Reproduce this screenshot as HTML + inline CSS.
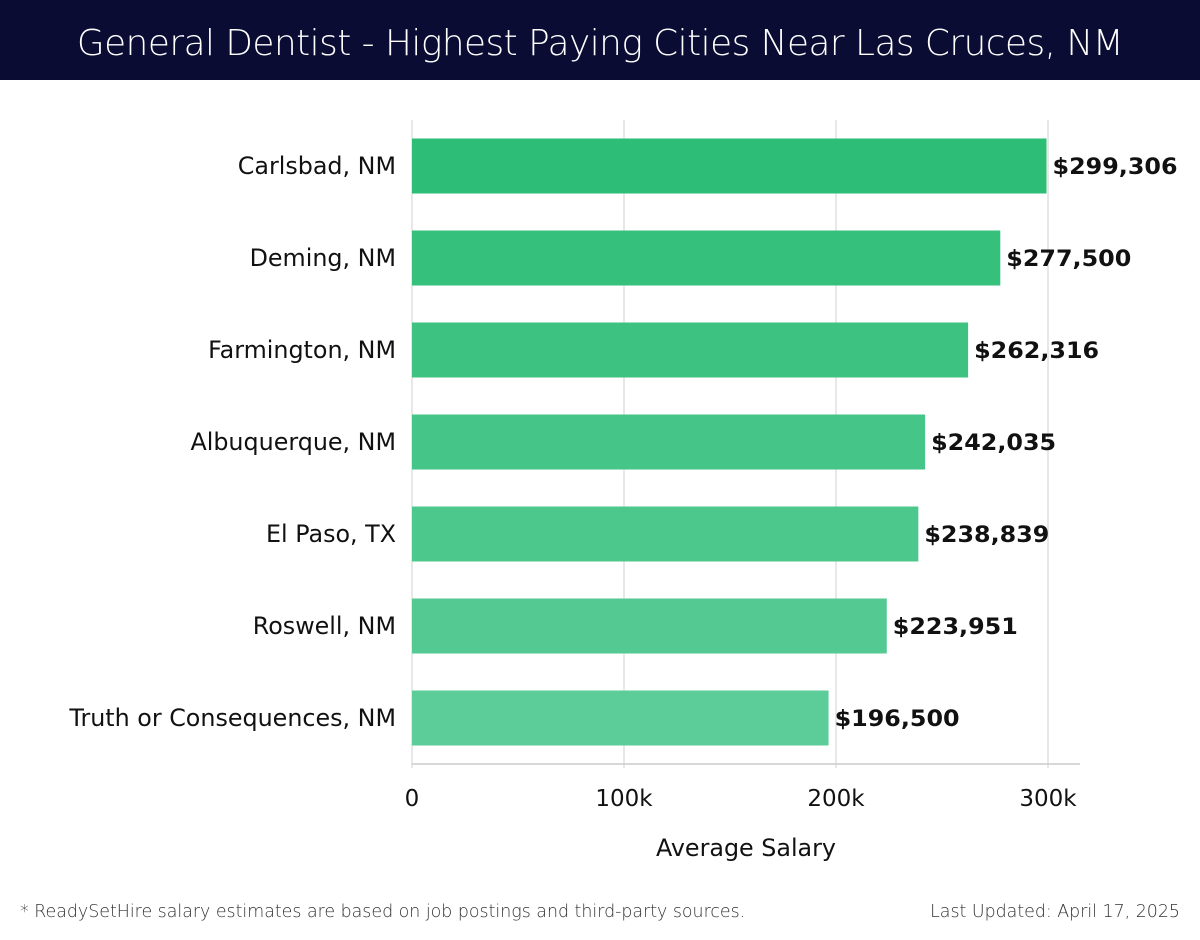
<!DOCTYPE html>
<html><head><meta charset="utf-8"><style>
body{margin:0;width:1200px;height:940px;background:#fff;font-family:"DejaVu Sans","Liberation Sans",sans-serif;overflow:hidden}
#hdr{position:absolute;left:0;top:0;width:1200px;height:80px;background:#0b0c33;color:#fff;font-size:35.8px;text-align:center;line-height:88px;font-family:"DejaVu Sans","Liberation Sans",sans-serif;font-weight:200;letter-spacing:-0.5px}
.foot{position:absolute;top:902px;font-size:17.4px;color:#333;font-family:"DejaVu Sans","Liberation Sans",sans-serif;font-weight:200}
</style></head><body>
<div id="hdr">General Dentist - Highest Paying Cities Near Las Cruces, NM</div>
<svg id="chart" width="1200" height="940" style="position:absolute;left:0;top:0;font-family:'DejaVu Sans','Liberation Sans',sans-serif"></svg>
<div class="foot" style="left:20px">* ReadySetHire salary estimates are based on job postings and third-party sources.</div>
<div class="foot" style="right:20px">Last Updated: April 17, 2025</div>
<script>
const categories=["Carlsbad, NM","Deming, NM","Farmington, NM","Albuquerque, NM","El Paso, TX","Roswell, NM","Truth or Consequences, NM"];
const values=[299306,277500,262316,242035,238839,223951,196500];
const valueLabels=["$299,306","$277,500","$262,316","$242,035","$238,839","$223,951","$196,500"];
const ticks=[0,100000,200000,300000];
const tickLabels=["0","100k","200k","300k"];
const NS="http://www.w3.org/2000/svg";
const svg=document.getElementById('chart');
const x0=412,pxPer=212/100000,top0=120,step=92,barH=55,axisY=764;
const xs=v=>x0+v*pxPer;
const yc=i=>top0+46+i*step;
function mk(t,a){const e=document.createElementNS(NS,t);for(const k in a)e.setAttribute(k,a[k]);svg.appendChild(e);return e;}
ticks.forEach((t,i)=>{
 const g=mk('line',{x1:xs(t),x2:xs(t),y1:top0,y2:axisY+4,stroke:'#e0e0e0','stroke-width':1.5});
 
 
 const l=mk('text',{x:xs(t),y:806,'text-anchor':'middle','font-size':23,fill:'#111'});
 l.textContent=tickLabels[i];
 
 
});
const ax=mk('line',{x1:x0,x2:1080,y1:axisY,y2:axisY,stroke:'#ccc','stroke-width':1.5});


const c1=[45,189,118],c2=[92,205,152];
values.forEach((v,i)=>{
 const f=i/(values.length-1);
 const col=`rgb(${c1.map((c,k)=>Math.round(c+(c2[k]-c)*f)).join(',')})`;
 const r=mk('rect',{x:x0,y:yc(i)-barH/2,width:xs(v)-x0,height:barH,fill:col});
 
 
 const vl=mk('text',{x:xs(v)+6,y:yc(i)+8,'font-size':22,'font-weight':'bold',fill:'#111',textLength:125,lengthAdjust:'spacingAndGlyphs'});
 vl.textContent=valueLabels[i];
 
 
 const cl=mk('text',{x:396,y:yc(i)+8,'text-anchor':'end','font-size':23.8,fill:'#111'});
 cl.textContent=categories[i];
 
 
});
const at=mk('text',{x:746,y:856,'text-anchor':'middle','font-size':23.8,fill:'#111'});
at.textContent='Average Salary';


</script>
</body></html>
